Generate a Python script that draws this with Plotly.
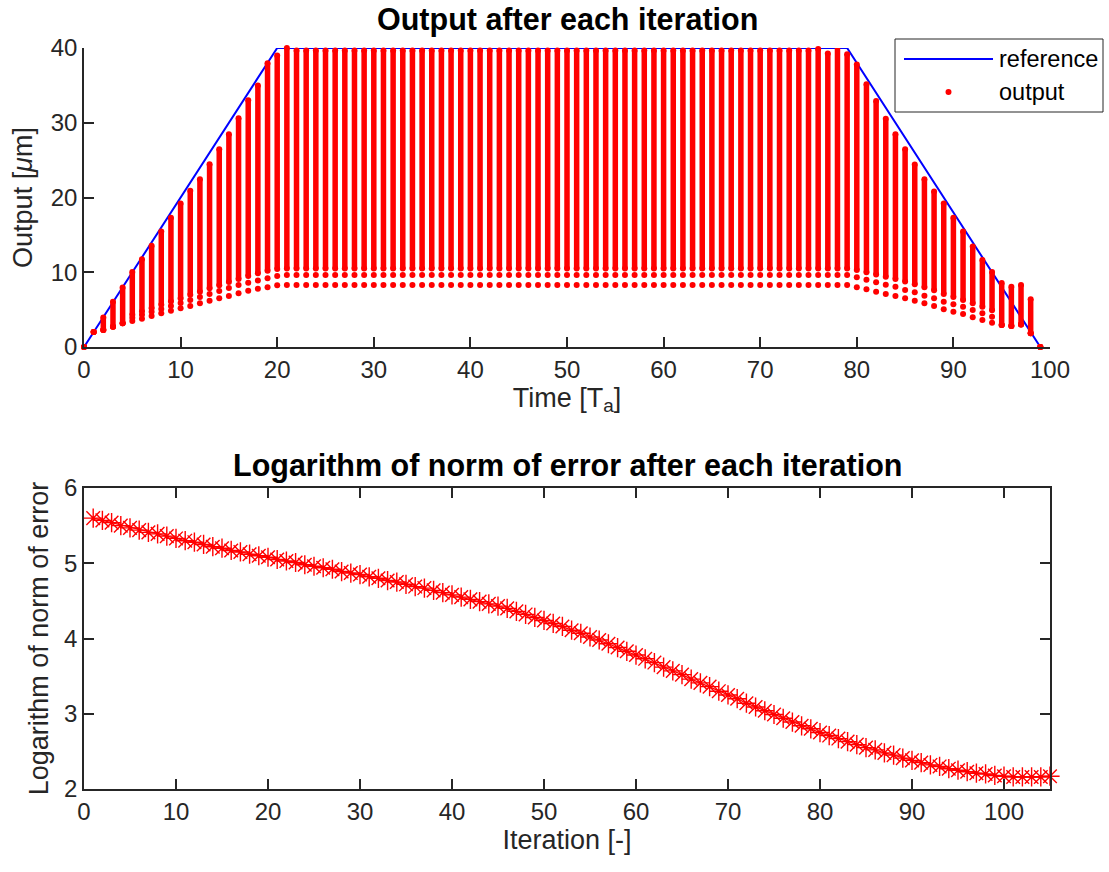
import plotly.graph_objects as go

# ---------------- data ----------------
# reference trajectory (trapezoid vertices)
ref_t = [0, 20, 79, 99]
ref_y = [0, 40, 40, 0]

time_steps = list(range(100))

# iteration 1 output (lowest dot of each column)
out_first = [0, 2.0, 2.27, 2.72, 3.17, 3.48, 3.79, 4.15, 4.5, 4.86,
             5.17, 5.48, 5.84, 6.2, 6.51, 6.82, 7.18, 7.53, 7.8, 7.98,
             8.25] + [8.29] * 59 + [
             7.98, 7.71, 7.4, 7.09, 6.82, 6.51, 6.2, 5.84, 5.48, 5.04,
             4.73, 4.41, 3.97, 3.61, 3.25, 2.94, 2.8, 3.0, 1.83, 0]
# iteration 2 output
out_second = [0, 2.0, 2.27, 2.72, 3.17, 3.9, 4.3, 4.7, 5.1, 5.5,
              5.9, 6.3, 6.7, 7.1, 7.5, 7.9, 8.3, 8.6, 8.9, 9.2,
              9.5] + [9.63] * 59 + [
              9.32, 9.0, 8.65, 8.34, 8.07, 7.62, 7.31, 6.87, 6.51, 6.06,
              5.71, 5.4, 4.95, 4.5, 4.06, 2.94, 2.8, 3.0, 1.83, 0]
# iteration 3 output (start of the dense part of each column)
out_third = [0, 2.0, 2.27, 2.72, 3.17, 4.3, 4.75, 5.2, 5.65, 6.1,
             6.5, 7.0, 7.4, 7.85, 8.25, 8.7, 9.1, 9.5, 9.85, 10.2,
             10.45] + [10.5] * 59 + [
             10.3, 10.0, 9.7, 9.4, 9.1, 8.75, 8.4, 8.0, 7.6, 7.1,
             6.7, 6.3, 5.85, 5.4, 4.9, 2.94, 2.8, 3.0, 1.83, 0]
# last iteration output (top of each column)
out_last = [0, 2.0, 3.95, 6.05, 7.95, 10.05, 11.75, 13.55, 15.45, 17.3,
            19.2, 20.9, 22.45, 24.45, 26.45, 28.45, 30.6, 33.0, 35.0, 37.95,
            39.0, 40.0] + [39.65] * 54 + [39.85, 39.25, 40.05,
            39.15, 37.8, 35.15, 32.9, 30.55, 28.45, 26.45, 24.4, 22.45, 20.8,
            19.2, 17.3, 15.45, 13.45, 11.65, 10.05, 8.55, 8.05, 8.3, 6.4, 0]

# logarithm of the norm of error per iteration
iterations = list(range(1, 106))
log_err = [5.60, 5.57, 5.54, 5.50, 5.47, 5.44, 5.41, 5.39, 5.36, 5.33,
           5.30, 5.28, 5.25, 5.22, 5.20, 5.17, 5.15, 5.12, 5.10, 5.08,
           5.05, 5.03, 5.01, 4.98, 4.96, 4.94, 4.92, 4.89, 4.87, 4.85,
           4.82, 4.80, 4.77, 4.75, 4.72, 4.69, 4.67, 4.64, 4.61, 4.58,
           4.55, 4.52, 4.49, 4.46, 4.43, 4.40, 4.36, 4.32, 4.28, 4.24,
           4.20, 4.16, 4.11, 4.07, 4.02, 3.98, 3.93, 3.88, 3.83, 3.78,
           3.73, 3.68, 3.62, 3.57, 3.52, 3.46, 3.41, 3.36, 3.30, 3.25,
           3.20, 3.14, 3.09, 3.04, 2.99, 2.94, 2.89, 2.84, 2.80, 2.75,
           2.71, 2.67, 2.63, 2.59, 2.55, 2.52, 2.48, 2.45, 2.41, 2.38,
           2.35, 2.32, 2.30, 2.27, 2.25, 2.23, 2.21, 2.20, 2.18, 2.17,
           2.16, 2.16, 2.16, 2.16, 2.17]

legend_labels = ["reference", "output"]

# ---------------- figure ----------------
W, H = 1109, 872
RED = "#FF0000"
BLUE = "#0000FF"
AX = "#262626"
FONT = "Liberation Sans, Arial, sans-serif"
FS_TICK = 24
FS_LABEL = 27
FS_TITLE = 30.5

def px_x(p):
    return p / W

def px_y(p):
    return 1 - p / H

fig = go.Figure()

# column bodies: vertical segments between iteration 3 and last iteration
body_x, body_y = [], []
for t, a, b in zip(time_steps, out_third, out_last):
    body_x += [t, t, None]
    body_y += [a, b, None]

fig.add_trace(go.Scatter(x=ref_t, y=ref_y, mode="lines", name=legend_labels[0],
                         showlegend=False,
                         line=dict(color=BLUE, width=2), xaxis="x", yaxis="y",
                         cliponaxis=False))
fig.add_trace(go.Scatter(x=body_x, y=body_y, mode="lines", showlegend=False,
                         line=dict(color=RED, width=5.5), xaxis="x", yaxis="y",
                         cliponaxis=False, hoverinfo="skip"))
for arr in [out_third, out_last, out_second, out_first]:
    fig.add_trace(go.Scatter(x=time_steps, y=arr, mode="markers",
                             name=legend_labels[1], showlegend=False,
                             marker=dict(color=RED, size=6, line=dict(width=0)),
                             xaxis="x", yaxis="y", cliponaxis=False))

fig.add_trace(go.Scatter(x=iterations, y=log_err, mode="lines+markers",
                         showlegend=False,
                         line=dict(color=RED, width=1.3),
                         marker=dict(symbol="asterisk-open", size=16, color=RED,
                                     line=dict(color=RED, width=1.4)),
                         xaxis="x2", yaxis="y2", cliponaxis=False))

axis_common = dict(showgrid=False, zeroline=False, showline=True, linecolor=AX,
                   linewidth=1.5, ticks="inside", ticklen=10, tickwidth=1.5,
                   tickcolor=AX, automargin=False,
                   tickfont=dict(family=FONT, size=FS_TICK, color=AX),
                   title_font=dict(family=FONT, size=FS_LABEL, color=AX))

# hand-drawn legend box (MATLAB style with long line sample)
shapes = [
    dict(type="rect", xref="paper", yref="paper",
         x0=px_x(895), x1=px_x(1103), y0=px_y(112), y1=px_y(39),
         line=dict(color=AX, width=1), fillcolor="white", layer="above"),
    dict(type="line", xref="paper", yref="paper",
         x0=px_x(904), x1=px_x(993), y0=px_y(59), y1=px_y(59),
         line=dict(color=BLUE, width=2), layer="above"),
    dict(type="circle", xref="paper", yref="paper",
         x0=px_x(945.5), x1=px_x(951.5), y0=px_y(95), y1=px_y(89),
         line=dict(color=RED, width=0), fillcolor=RED, layer="above"),
]

fig.update_layout(
    width=W, height=H, margin=dict(l=0, r=0, t=0, b=0),
    paper_bgcolor="white", plot_bgcolor="white",
    font=dict(family=FONT, size=FS_TICK, color=AX),
    showlegend=False,
    xaxis=dict(domain=[px_x(84), px_x(1050)], anchor="y", range=[0, 100],
               tickmode="array", tickvals=list(range(0, 101, 10)),
               title=dict(text="Time [T<sub>a</sub>]", standoff=6),
               **axis_common),
    yaxis=dict(domain=[px_y(347), px_y(48)], anchor="x", range=[0, 40],
               tickmode="array", tickvals=list(range(0, 41, 10)),
               title=dict(text="Output [<i>μ</i>m]", standoff=10),
               **axis_common),
    xaxis2=dict(domain=[px_x(84), px_x(1050)], anchor="y2", range=[0, 105],
                tickmode="array", tickvals=list(range(0, 101, 10)),
                mirror="ticks",
                title=dict(text="Iteration [-]", standoff=6),
                **axis_common),
    yaxis2=dict(domain=[px_y(789), px_y(488)], anchor="x2", range=[2, 6],
                tickmode="array", tickvals=[2, 3, 4, 5, 6],
                mirror="ticks",
                title=dict(text="Logarithm of norm of error", standoff=8),
                **axis_common),
    shapes=shapes,
    annotations=[
        dict(text="<b>Output after each iteration</b>", x=px_x(567), y=px_y(20),
             xref="paper", yref="paper", showarrow=False, yanchor="middle",
             font=dict(family=FONT, size=FS_TITLE, color="black")),
        dict(text="<b>Logarithm of norm of error after each iteration</b>",
             x=px_x(567), y=px_y(465), xref="paper", yref="paper",
             showarrow=False, yanchor="middle",
             font=dict(family=FONT, size=FS_TITLE, color="black")),
        dict(text=legend_labels[0], x=px_x(997), y=px_y(59), xref="paper",
             yref="paper", showarrow=False, xanchor="left", yanchor="middle",
             font=dict(family=FONT, size=23.5, color="black")),
        dict(text=legend_labels[1], x=px_x(997), y=px_y(92), xref="paper",
             yref="paper", showarrow=False, xanchor="left", yanchor="middle",
             font=dict(family=FONT, size=23.5, color="black")),
    ],
)

fig.write_html("out.html")
